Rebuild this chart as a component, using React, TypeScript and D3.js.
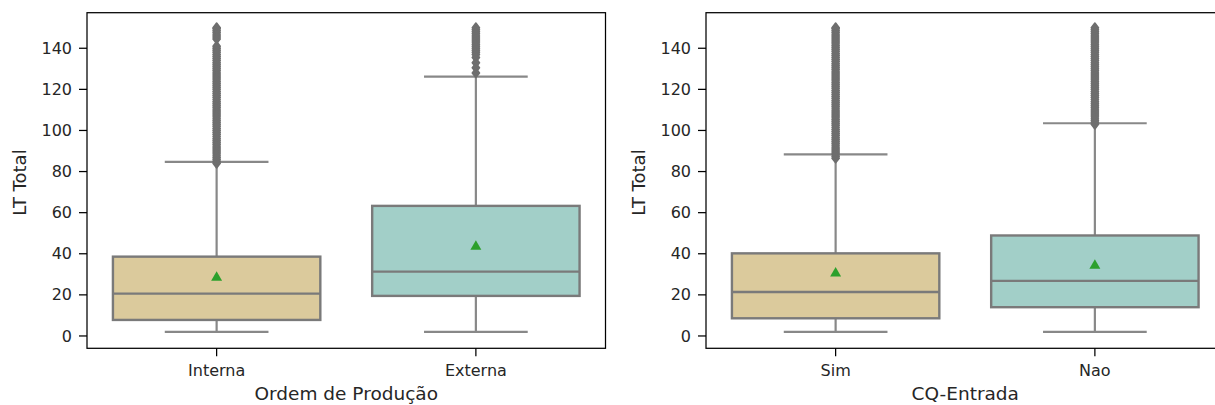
import React from "react";
import * as d3 from "d3";

// ---------- data ----------
const catsLeft = ["Interna", "Externa"];
const catsRight = ["Sim", "Nao"];
const yTicks = [0, 20, 40, 60, 80, 100, 120, 140];

// [whiskerLow, q1, median, q3, whiskerHigh, mean]
const statsInterna = [2, 7.8, 20.6, 38.6, 84.7, 28.4];
const statsExterna = [2, 19.5, 31.3, 63.3, 126.2, 43.5];
const statsSim = [2, 8.6, 21.4, 40.2, 88.4, 30.5];
const statsNao = [2, 14.0, 26.8, 48.9, 103.5, 34.2];

const outInterna = [84, 85, 86, 87, 88, 89, 90, 91, 92, 93, 94, 95, 96, 97, 98, 99, 100, 101, 102, 103, 104, 105, 106, 107, 108, 109, 110, 111, 112, 113, 114, 115, 116, 117, 118, 119, 120, 121, 122, 123, 124, 125, 126, 127, 128, 129, 130, 131, 132, 133, 134, 135, 136, 137, 138, 139, 140, 141, 144.5, 145.5, 146.5, 147.5, 148.5, 149.5, 150];
const outExterna = [128, 130.5, 133, 135.5, 137, 138, 139, 140, 141, 142, 143, 144, 145, 146, 147, 148, 149, 150];
const outSim = [86.5, 87.5, 88.5, 89.5, 90.5, 91.5, 92.5, 93.5, 94.5, 95.5, 96.5, 97.5, 98.5, 99.5, 100.5, 101.5, 102.5, 103.5, 104.5, 105.5, 106.5, 107.5, 108.5, 109.5, 110.5, 111.5, 112.5, 113.5, 114.5, 115.5, 116.5, 117.5, 118.5, 119.5, 120.5, 121.5, 122.5, 123.5, 124.5, 125.5, 126.5, 127.5, 128.5, 129.5, 130.5, 131.5, 132.5, 133.5, 134.5, 135.5, 136.5, 137.5, 138.5, 139.5, 140.5, 141.5, 142.5, 143.5, 144.5, 145.5, 146.5, 147.5, 148.5, 149.5, 150];
const outNao = [103, 104, 105, 106, 107, 108, 109, 110, 111, 112, 113, 114, 115, 116, 117, 118, 119, 120, 121, 122, 123, 124, 125, 126, 127, 128, 129, 130, 131, 132, 133, 134, 135, 136, 137, 138, 139, 140, 141, 142, 143, 144, 145, 146, 147, 148, 149, 150];

const colors = ["#dbca9c", "#a2cfc8"];

const W = 1215;
const H = 405;
const TOP = 12.7;
const BOTTOM = 348.3;
const FONT = "DejaVu Sans, sans-serif";
const TXT = "#262626";
const LINE = "#7a7a7a";
const WHISK = "#888888";
const FLIER = "#6e6e6e";

const y = d3.scaleLinear().domain([-6.0, 157.3]).range([BOTTOM, TOP]);

type Props = {
  x0: number;
  x1: number;
  cats: string[];
  stats: number[][];
  outliers: number[][];
  xlabel: string;
};

function Panel({ x0, x1, cats, stats, outliers, xlabel }: Props) {
  const x = d3.scaleBand<string>().domain(cats).range([x0, x1]).padding(0);
  const bw = x.bandwidth() * 0.8;
  const tri = d3.symbol().type(d3.symbolTriangle).size(52)();
  const diamond = "M0,-4.6L3.6,0L0,4.6L-3.6,0Z";
  const clipId = `clip-${cats[0]}`;
  return (
    <g>
      <defs>
        <clipPath id={clipId}>
          <rect x={x0} y={TOP} width={x1 - x0} height={BOTTOM - TOP} />
        </clipPath>
      </defs>
      <g clipPath={`url(#${clipId})`}>
        {cats.map((c, i) => {
          const cx = (x(c) as number) + x.bandwidth() / 2;
          const [lo, q1, med, q3, hi, mean] = stats[i];
          return (
            <g key={c}>
              <line x1={cx} x2={cx} y1={y(lo)} y2={y(q1)} stroke={WHISK} strokeWidth={2.2} />
              <line x1={cx} x2={cx} y1={y(q3)} y2={y(hi)} stroke={WHISK} strokeWidth={2.2} />
              <line x1={cx - bw / 4} x2={cx + bw / 4} y1={y(lo)} y2={y(lo)} stroke={WHISK} strokeWidth={2.2} />
              <line x1={cx - bw / 4} x2={cx + bw / 4} y1={y(hi)} y2={y(hi)} stroke={WHISK} strokeWidth={2.2} />
              <rect x={cx - bw / 2} y={y(q3)} width={bw} height={y(q1) - y(q3)} fill={colors[i]} stroke={LINE} strokeWidth={2.4} />
              <line x1={cx - bw / 2} x2={cx + bw / 2} y1={y(med)} y2={y(med)} stroke={LINE} strokeWidth={2.4} />
              {outliers[i].map((v, k) => (
                <path key={k} d={diamond} transform={`translate(${cx},${y(v)})`} fill={FLIER} stroke={FLIER} strokeWidth={1.6} strokeLinejoin="round" />
              ))}
              <path d={tri as string} transform={`translate(${cx},${y(mean)})`} fill="#2ca02c" />
            </g>
          );
        })}
      </g>
      <rect x={x0} y={TOP} width={x1 - x0} height={BOTTOM - TOP} fill="none" stroke="#000" strokeWidth={1.25} />
      {yTicks.map((t) => (
        <g key={t}>
          <line x1={x0 - 8} x2={x0} y1={y(t)} y2={y(t)} stroke="#000" strokeWidth={1.25} />
          <text x={x0 - 15} y={y(t)} dy="0.35em" textAnchor="end" fontFamily={FONT} fontSize={16} fill={TXT}>
            {t}
          </text>
        </g>
      ))}
      {cats.map((c) => {
        const cx = (x(c) as number) + x.bandwidth() / 2;
        return (
          <g key={c}>
            <line x1={cx} x2={cx} y1={BOTTOM} y2={BOTTOM + 8} stroke="#000" strokeWidth={1.25} />
            <text x={cx} y={376} textAnchor="middle" fontFamily={FONT} fontSize={16} fill={TXT}>
              {c}
            </text>
          </g>
        );
      })}
      <text x={(x0 + x1) / 2} y={400} textAnchor="middle" fontFamily={FONT} fontSize={18.5} fill={TXT}>
        {xlabel}
      </text>
      <text transform={`translate(${x0 - 61},${(TOP + BOTTOM) / 2 + 2}) rotate(-90)`} textAnchor="middle" fontFamily={FONT} fontSize={18} fill={TXT}>
        LT Total
      </text>
    </g>
  );
}

export default function App() {
  return (
    <svg width={W} height={H} style={{ position: "fixed", left: 0, top: 0, background: "#fff" }}>
      <rect width={W} height={H} fill="#fff" />
      <Panel x0={87} x1={605.5} cats={catsLeft} stats={[statsInterna, statsExterna]} outliers={[outInterna, outExterna]} xlabel="Ordem de Produção" />
      <Panel x0={706} x1={1224.5} cats={catsRight} stats={[statsSim, statsNao]} outliers={[outSim, outNao]} xlabel="CQ-Entrada" />
    </svg>
  );
}
